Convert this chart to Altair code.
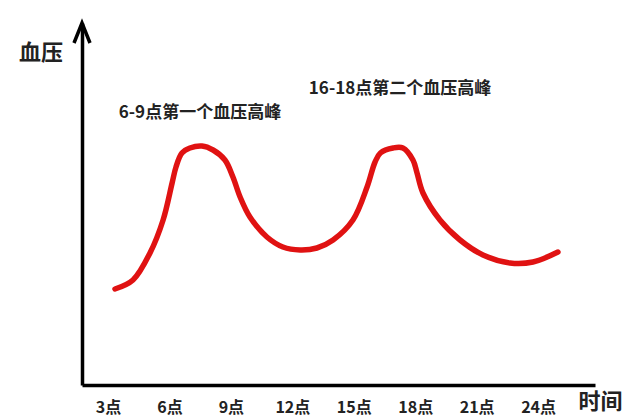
import altair as alt
import pandas as pd

# Blood-pressure curve (hour of day, relative level)
hours = [3.34, 4.22, 5.05, 5.69, 6.13, 6.32, 6.61, 7.0, 7.59, 8.13, 8.71, 9.10,
         9.45, 9.93, 10.76, 11.54, 12.38, 13.20, 13.99, 14.96, 15.65, 16.04,
         16.30, 16.92, 17.40, 17.89, 18.09, 18.38, 19.21, 20.19, 21.31, 22.63,
         23.75, 24.97]
levels = [96, 105, 132, 165, 202, 218, 232, 237, 239, 235, 225, 208,
          188, 168, 148, 138, 135, 137, 145, 165, 198, 223,
          232, 237, 237, 225, 212, 192, 165, 145, 130, 122,
          123, 133]

tick_hours = [3, 6, 9, 12, 15, 18, 21, 24]

notes = ["6-9点第一个血压高峰", "16-18点第二个血压高峰"]
note_hours = [7.49, 17.26]
note_levels = [272, 296]

y_title = "血压"
x_title = "时间"

FONT = "Noto Sans CJK SC"
X_DOMAIN = [1.73, 26.78]
Y_DOMAIN = [0, 362]

curve = pd.DataFrame({"hour": hours, "level": levels})
xs = alt.Scale(domain=X_DOMAIN, nice=False, zero=False)
ys = alt.Scale(domain=Y_DOMAIN, nice=False, zero=False)

line = alt.Chart(curve).mark_line(
    color="#e01212", strokeWidth=5.5, interpolate="catmull-rom", strokeCap="round",
    strokeJoin="round"
).encode(
    x=alt.X("hour:Q", scale=xs,
            axis=alt.Axis(values=tick_hours, labelExpr="datum.value + '点'",
                          title=None, ticks=False, grid=False,
                          domainColor="#000", domainWidth=3.5,
                          labelFont=FONT, labelFontSize=16, labelFontWeight="bold",
                          labelColor="#222", labelPadding=14)),
    y=alt.Y("level:Q", scale=ys,
            axis=alt.Axis(title=None, labels=False, ticks=False, grid=False,
                          domainColor="#000", domainWidth=3.5)),
)

notes_df = pd.DataFrame({"hour": note_hours, "level": note_levels, "t": notes})
note_text = alt.Chart(notes_df).mark_text(
    font=FONT, fontSize=17, fontWeight="bold", color="#222"
).encode(x=alt.X("hour:Q", scale=xs), y=alt.Y("level:Q", scale=ys), text="t:N")

titles_df = pd.DataFrame({"hour": [-0.27, 27.05], "level": [332, -17], "t": [y_title, x_title]})
title_text = alt.Chart(titles_df).mark_text(
    font=FONT, fontSize=22, fontWeight="bold", color="#222"
).encode(x=alt.X("hour:Q", scale=xs), y=alt.Y("level:Q", scale=ys), text="t:N")

arrow_df = pd.DataFrame({"hour": [X_DOMAIN[0]], "level": [Y_DOMAIN[1]]})
arrow = alt.Chart(arrow_df).mark_point(
    shape="M-0.4,1L0,0L0.4,1", size=1600, filled=False, stroke="#000",
    strokeWidth=3.5, opacity=1
).encode(x=alt.X("hour:Q", scale=xs), y=alt.Y("level:Q", scale=ys))

chart = alt.layer(line, note_text, title_text, arrow).properties(
    width=513, height=362,
    autosize=alt.AutoSizeParams(type="none"),
    padding={"left": 74, "top": 15, "right": 37, "bottom": 34},
    background="white",
).configure_view(stroke=None)

chart.save("out.html", embed_options={"renderer": "svg", "actions": False})
